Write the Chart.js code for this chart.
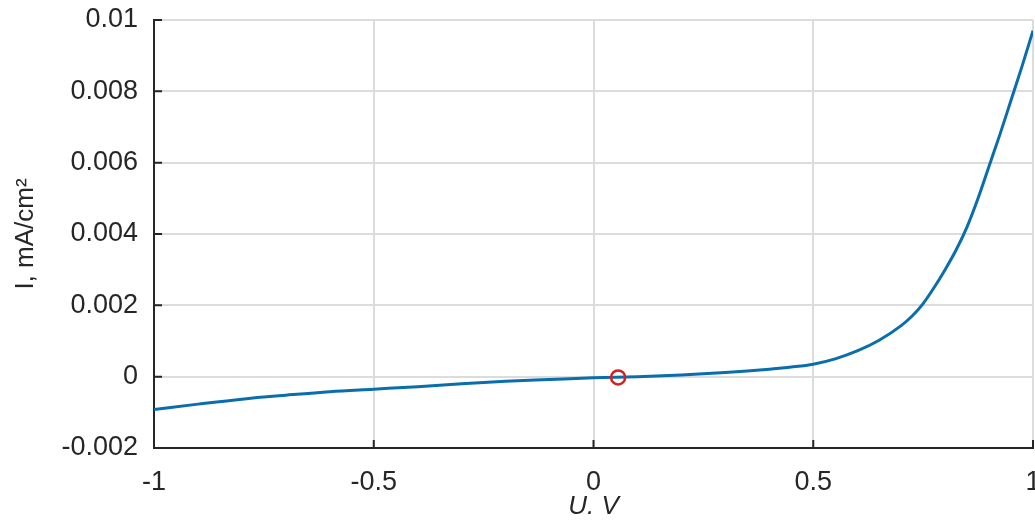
<!DOCTYPE html>
<html>
<head>
<meta charset="utf-8">
<script src="https://cdn.jsdelivr.net/npm/chart.js@4"></script>
<style>
  html, body { margin: 0; padding: 0; background: #fff; overflow: hidden; }
  canvas { display: block; }
</style>
</head>
<body>
<canvas id="iv" width="1035" height="522"></canvas>
<script>
// I-V curve
const voltage = [-1.0, -0.9, -0.8, -0.7, -0.6, -0.5, -0.4, -0.3, -0.2, -0.1, 0.0, 0.1, 0.2, 0.3, 0.35, 0.4, 0.45, 0.5, 0.55, 0.6, 0.65, 0.7, 0.725, 0.75, 0.775, 0.8, 0.825, 0.85, 0.875, 0.9, 0.925, 0.95, 0.975, 1.0];
const current = [-0.00092, -0.00077, -0.00063, -0.00052, -0.00042, -0.00035, -0.00028, -0.0002, -0.00013, -0.00008, -0.00003, 0.0, 0.00005, 0.00012, 0.00016, 0.00021, 0.00027, 0.00035, 0.0005, 0.00072, 0.00102, 0.00143, 0.0017, 0.00205, 0.0025, 0.003, 0.00355, 0.0042, 0.005, 0.0059, 0.0068, 0.00775, 0.0087, 0.0097];

// marked point
const markU = [0.056];
const markI = [-0.00002];

const xTicks = [-1, -0.5, 0, 0.5, 1];
const yTicks = [-0.002, 0, 0.002, 0.004, 0.006, 0.008, 0.01];

const textColor = "#262626";
const fontFamily = "'Liberation Sans', Arial, sans-serif";

// matlab style ticks pointing into the plot, x labels drawn here so the
// last one may run off the edge like in the original.
// the marker circle is drawn here too (at the point chart.js placed it),
// a real point radius would make chart.js pad the plot area on the right
const innerTicks = {
  id: "innerTicks",
  afterDatasetsDraw(chart) {
    const ctx = chart.ctx;
    const area = chart.chartArea;
    const xs = chart.scales.x;
    const ys = chart.scales.y;
    ctx.save();
    ctx.strokeStyle = textColor;
    ctx.lineWidth = 2;
    ctx.beginPath();
    xTicks.forEach((v) => {
      const px = xs.getPixelForValue(v);
      ctx.moveTo(px, area.bottom);
      ctx.lineTo(px, area.bottom - 8);
    });
    yTicks.forEach((v) => {
      const py = ys.getPixelForValue(v);
      ctx.moveTo(area.left, py);
      ctx.lineTo(area.left + 8, py);
    });
    ctx.stroke();

    ctx.fillStyle = textColor;
    ctx.font = `27px ${fontFamily}`;
    ctx.textAlign = "center";
    ctx.textBaseline = "middle";
    xTicks.forEach((v) => {
      ctx.fillText(String(v), xs.getPixelForValue(v), area.bottom + 35);
    });

    ctx.strokeStyle = "#d42020";
    ctx.lineWidth = 2.5;
    chart.getDatasetMeta(0).data.forEach((pt) => {
      ctx.beginPath();
      ctx.arc(pt.x, pt.y, 7, 0, Math.PI * 2);
      ctx.stroke();
    });
    ctx.restore();
  },
};

new Chart(document.getElementById("iv"), {
  type: "line",
  data: {
    datasets: [
      {
        data: markU.map((u, i) => ({ x: u, y: markI[i] })),
        showLine: false,
        borderWidth: 0,
        pointRadius: 0,
      },
      {
        data: voltage.map((u, i) => ({ x: u, y: current[i] })),
        borderColor: "#0a6ead",
        borderWidth: 3,
        pointRadius: 0,
        cubicInterpolationMode: "monotone",
        fill: false,
      },
    ],
  },
  options: {
    responsive: false,
    animation: false,
    layout: { padding: { top: 20, right: 2, left: 0, bottom: 0 } },
    plugins: { legend: { display: false }, tooltip: { enabled: false } },
    scales: {
      x: {
        type: "linear",
        min: -1,
        max: 1,
        afterBuildTicks: (s) => { s.ticks = xTicks.map((v) => ({ value: v })); },
        afterFit: (s) => { s.height = 74; },
        grid: { color: "#dcdcdc", lineWidth: 2, drawTicks: false },
        border: { color: textColor, width: 2 },
        ticks: { display: false },
        title: {
          display: true,
          text: "U. V",
          color: textColor,
          padding: { top: 0, bottom: 0 },
          font: { family: fontFamily, size: 26, style: "italic" },
        },
      },
      y: {
        min: -0.002,
        max: 0.01,
        afterBuildTicks: (s) => { s.ticks = yTicks.map((v) => ({ value: v })); },
        afterFit: (s) => { s.width = 154; s.paddingTop = 0; s.paddingBottom = 0; },
        grid: { color: "#dcdcdc", lineWidth: 2, drawTicks: false },
        border: { color: textColor, width: 2 },
        ticks: {
          color: textColor,
          padding: 16,
          font: { family: fontFamily, size: 27 },
          callback: (v) => String(v),
        },
        title: {
          display: true,
          text: "I, mA/cm²",
          color: textColor,
          padding: { top: 10, bottom: 4 },
          font: { family: fontFamily, size: 26 },
        },
      },
    },
  },
  plugins: [innerTicks],
});
</script>
</body>
</html>
